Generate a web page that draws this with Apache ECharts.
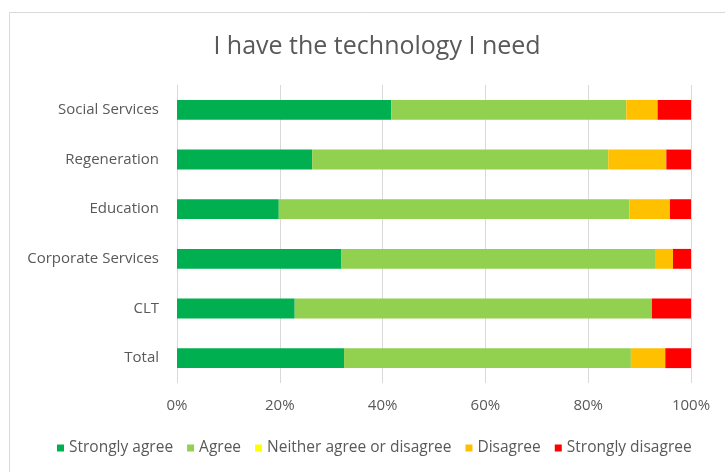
<!DOCTYPE html>
<html>
<head>
<meta charset="utf-8">
<script src="https://cdn.jsdelivr.net/npm/echarts@6/dist/echarts.min.js"></script>
<style>
  html, body { margin: 0; padding: 0; background: #fff; }
  #chart { width: 725px; height: 472px; }
</style>
</head>
<body>
<div id="chart"></div>
<script>
  // categories, top to bottom
  var categories = ['Social Services', 'Regeneration', 'Education', 'Corporate Services', 'CLT', 'Total'];

  // percent of responses per category
  var stronglyAgree = [41.7, 26.3, 19.8, 32.0, 22.9, 32.5];
  var agree = [45.7, 57.6, 68.2, 61.0, 69.5, 55.8];
  var neither = [0, 0, 0, 0, 0, 0];
  var disagree = [6.1, 11.3, 7.9, 3.5, 0, 6.7];
  var stronglyDisagree = [6.5, 4.8, 4.1, 3.5, 7.6, 5.0];

  var seriesNames = ['Strongly agree', 'Agree', 'Neither agree or disagree', 'Disagree', 'Strongly disagree'];
  var seriesColors = ['#00B050', '#92D050', '#FFFF00', '#FFC000', '#FF0000'];
  var seriesData = [stronglyAgree, agree, neither, disagree, stronglyDisagree];

  var font = '"Open Sans", "Liberation Sans", sans-serif';
  var textColor = '#595959';

  var chart = echarts.init(document.getElementById('chart'));

  //堆叠系列
  var series = [];
  for (var i = 0; i < seriesNames.length; i++) {
    series.push({
      name: seriesNames[i],
      type: 'bar',
      stack: 'total',
      barCategoryGap: '60%',
      itemStyle: { color: seriesColors[i] },
      data: seriesData[i]
    });
  }

  var option = {
    animation: false,
    backgroundColor: '#fff',
    textStyle: { fontFamily: font },
    graphic: [{
      type: 'rect',
      left: 7,
      top: 10,
      shape: { width: 800, height: 500 },
      style: { fill: 'none', stroke: '#d9d9d9', lineWidth: 1 },
      silent: true
    }],
    title: {
      text: 'I have the technology I need',
      left: 372,
      top: 29,
      textAlign: 'center',
      textStyle: {
        fontFamily: font,
        fontSize: 25,
        fontWeight: 'normal',
        color: textColor
      }
    },
    legend: {
      data: seriesNames,
      left: 52,
      top: 435,
      icon: 'rect',
      itemWidth: 7,
      itemHeight: 7,
      itemGap: 14,
      textStyle: { fontFamily: font, fontSize: 15.5, color: textColor }
    },
    grid: {
      left: 177,
      right: 34,
      top: 85,
      bottom: 89
    },
    xAxis: {
      type: 'value',
      min: 0,
      max: 100,
      interval: 20,
      axisLine: { show: false },
      axisTick: { show: false },
      splitLine: { lineStyle: { color: '#d9d9d9', width: 1 } },
      axisLabel: {
        formatter: '{value}%',
        margin: 15,
        fontFamily: font,
        fontSize: 15,
        color: textColor
      }
    },
    yAxis: {
      type: 'category',
      inverse: true,
      data: categories,
      axisLine: { show: false },
      axisTick: { show: false },
      axisLabel: {
        margin: 18,
        fontFamily: font,
        fontSize: 15,
        color: textColor
      }
    },
    series: series
  };

  chart.setOption(option);
</script>
</body>
</html>
